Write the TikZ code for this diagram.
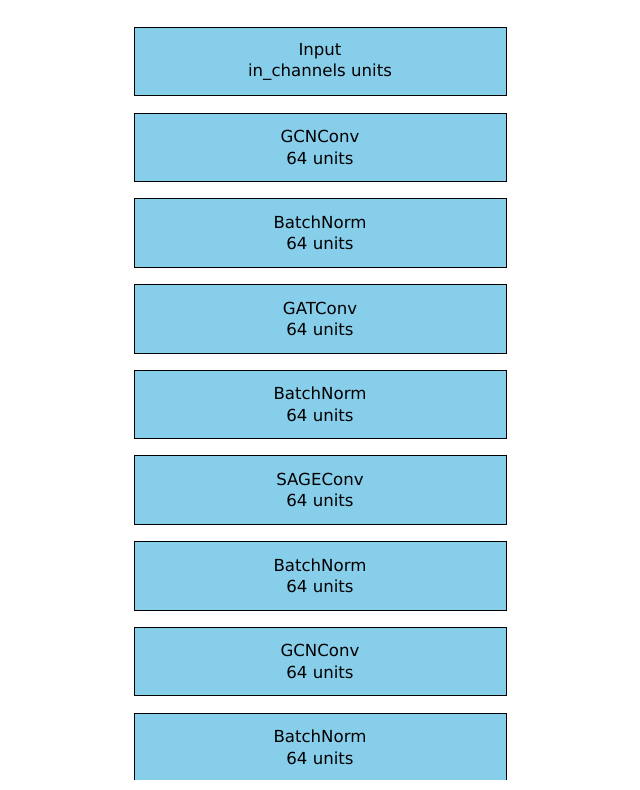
\documentclass[tikz,border=0pt]{standalone}
\usepackage{fontspec}
\setmainfont{DejaVu Sans}
\definecolor{skyblue}{HTML}{87CEEB}
\begin{document}
\begin{tikzpicture}[x=1pt,y=1pt,
  layer/.style={draw=black, line width=1pt, fill=skyblue, minimum width=372pt, minimum height=68.5pt, inner sep=0pt, align=center, font=\fontsize{16.6}{21.4}\selectfont}]
\useasboundingbox (0,0) rectangle (640,790);
\clip (0,10) rectangle (640,790);
\node[layer] (n1) at (320,{790-61.7}) {Input\\in\_channels units};
\node[layer] (n2) at (320,{790-61.7-85.7}) {GCNConv\\64 units};
\node[layer] (n3) at (320,{790-61.7-2*85.7}) {BatchNorm\\64 units};
\node[layer] (n4) at (320,{790-61.7-3*85.7}) {GATConv\\64 units};
\node[layer] (n5) at (320,{790-61.7-4*85.7}) {BatchNorm\\64 units};
\node[layer] (n6) at (320,{790-61.7-5*85.7}) {SAGEConv\\64 units};
\node[layer] (n7) at (320,{790-61.7-6*85.7}) {BatchNorm\\64 units};
\node[layer] (n8) at (320,{790-61.7-7*85.7}) {GCNConv\\64 units};
\node[layer] (n9) at (320,{790-61.7-8*85.7}) {BatchNorm\\64 units};
\end{tikzpicture}
\end{document}
